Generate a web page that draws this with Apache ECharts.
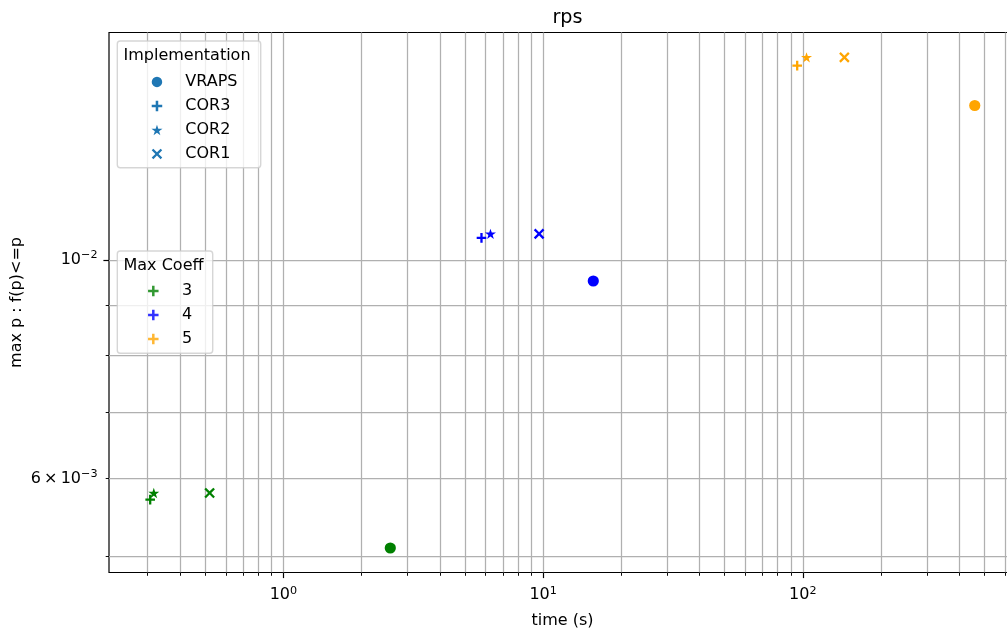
<!DOCTYPE html>
<html>
<head>
<meta charset="utf-8">
<script src="https://cdn.jsdelivr.net/npm/echarts@6/dist/echarts.min.js"></script>
<style>
  html, body { margin: 0; padding: 0; background: #ffffff; }
  #chart { width: 1007px; height: 630px; }
</style>
</head>
<body>
<div id="chart"></div>
<script>
// ---- data ----------------------------------------------------------------
const implementations = ['VRAPS', 'COR3', 'COR2', 'COR1'];
const maxCoeffs = ['3', '4', '5'];
const coeffColors = ['green', 'blue', 'orange'];

// one value per max coefficient (3, 4, 5)
const timeVRAPS = [2.58, 15.6, 459];
const probVRAPS = [0.00510, 0.00952, 0.01435];
const timeCOR3 = [0.307, 5.79, 95.1];
const probCOR3 = [0.00571, 0.01053, 0.01575];
const timeCOR2 = [0.317, 6.27, 103.3];
const probCOR2 = [0.00580, 0.01063, 0.01606];
const timeCOR1 = [0.520, 9.65, 144.5];
const probCOR1 = [0.00580, 0.01063, 0.01606];

// ---- ticks ---------------------------------------------------------------
const xMajorTicks = [1, 10, 100];
const xMinorTicks = [0.3, 0.4, 0.5, 0.6, 0.7, 0.8, 0.9,
                     2, 3, 4, 5, 6, 7, 8, 9,
                     20, 30, 40, 50, 60, 70, 80, 90,
                     200, 300, 400, 500, 600];
const yMajorTicks = [0.01];
const yMinorTicks = [0.005, 0.006, 0.007, 0.008, 0.009];
const yLabelTicks = [0.006, 0.01];

const xRange = [0.2131, 661.6];
const yRange = [0.004816, 0.01702];

// ---- styling helpers -----------------------------------------------------
const FONT = 'DejaVu Sans';
const FS = 16;
const GRID_COLOR = '#b0b0b0';
const IMPL_COLOR = '#1f77b4';

function starPath() {
  let s = 'path://';
  for (let k = 0; k < 10; k++) {
    const r = k % 2 ? 3.81966 : 10;
    const a = (-90 + 36 * k) * Math.PI / 180;
    s += (k ? 'L' : 'M') + (r * Math.cos(a)).toFixed(3) + ',' + (r * Math.sin(a)).toFixed(3);
  }
  return s + 'Z';
}
const PLUS = 'path://M3.8,0H6.2V3.8H10V6.2H6.2V10H3.8V6.2H0V3.8H3.8Z';
const CROSS = 'path://M0,1.53L1.53,0L5,3.47L8.47,0L10,1.53L6.53,5L10,8.47L8.47,10L5,6.53L1.53,10L0,8.47L3.47,5Z';
const STAR = starPath();

const markers = {
  VRAPS: { symbol: 'circle', size: 11.2 },
  COR3: { symbol: PLUS, size: 9.6 },
  COR2: { symbol: STAR, size: [11, 10.4] },
  COR1: { symbol: CROSS, size: 10.6 }
};
const seriesData = {
  VRAPS: [timeVRAPS, probVRAPS],
  COR3: [timeCOR3, probCOR3],
  COR2: [timeCOR2, probCOR2],
  COR1: [timeCOR1, probCOR1]
};

// "10^e" or "m × 10^e" written with a raised exponent
function powLabel(v) {
  const e = Math.floor(Math.log10(v) + 1e-9);
  const m = Math.round(v / Math.pow(10, e));
  const exp = String(e).replace('-', '\u2212');
  const head = m === 1 ? '10' : m + '\u2009\u00d7\u200910';
  return '{b|' + head + '}{s|' + exp + '}';
}
const labelRich = {
  b: { fontFamily: FONT, fontSize: FS, color: '#000', lineHeight: 20, verticalAlign: 'middle' },
  s: { fontFamily: FONT, fontSize: 11.2, color: '#000', lineHeight: 10.5, verticalAlign: 'top' }
};

// ---- series --------------------------------------------------------------
const series = implementations.map(name => ({
  name: name,
  type: 'scatter',
  xAxisIndex: 0,
  yAxisIndex: 0,
  symbol: markers[name].symbol,
  symbolSize: markers[name].size,
  itemStyle: { color: IMPL_COLOR, opacity: 1 },
  emphasis: { disabled: true },
  data: seriesData[name][0].map((t, i) => ({
    value: [t, seriesData[name][1][i]],
    itemStyle: { color: coeffColors[i] }
  }))
}));
// legend-only entries for the coefficient colours
maxCoeffs.forEach((c, i) => {
  series.push({
    name: c,
    type: 'scatter',
    symbol: PLUS,
    symbolSize: 9.6,
    itemStyle: { color: coeffColors[i] },
    data: []
  });
});

const chart = echarts.init(document.getElementById('chart'), null, { renderer: 'canvas' });

const legendText = { fontFamily: FONT, fontSize: FS, color: '#000' };

const option = {
  animation: false,
  backgroundColor: '#ffffff',
  textStyle: { fontFamily: FONT },
  title: {
    text: 'rps',
    left: 562.5,
    textAlign: 'center',
    top: 4,
    textStyle: { fontFamily: FONT, fontSize: 19.2, fontWeight: 'normal', color: '#000' }
  },
  grid: {
    left: 109, top: 32.5, width: 907, height: 540,
    outerBoundsMode: 'none',
    containLabel: false,
    show: true, borderColor: '#000', borderWidth: 1.2, backgroundColor: 'transparent'
  },
  xAxis: [
    {
      type: 'log', logBase: 10, min: xRange[0], max: xRange[1], position: 'bottom',
      name: 'time (s)', nameLocation: 'middle', nameGap: 40, nameMoveOverlap: false,
      nameTextStyle: { fontFamily: FONT, fontSize: FS, color: '#000' },
      axisLine: { show: false },
      axisTick: { show: true, length: 5.6, customValues: xMajorTicks, lineStyle: { color: '#000', width: 1.2 } },
      axisLabel: { show: true, customValues: xMajorTicks, margin: 12.8, formatter: powLabel, rich: labelRich },
      splitLine: { show: true, lineStyle: { color: GRID_COLOR, width: 1.25 } },
      minorTick: { show: false }, minorSplitLine: { show: false }
    },
    {
      type: 'log', logBase: 10, min: xRange[0], max: xRange[1], position: 'bottom',
      axisLine: { show: false },
      axisTick: { show: true, length: 3.3, customValues: xMinorTicks, lineStyle: { color: '#000', width: 0.95 } },
      axisLabel: { show: false },
      splitLine: { show: true, lineStyle: { color: GRID_COLOR, width: 1.25 } }
    }
  ],
  yAxis: [
    {
      type: 'log', logBase: 10, min: yRange[0], max: yRange[1], position: 'left',
      name: 'max p : f(p)<=p', nameLocation: 'middle', nameGap: 84.5, nameRotate: 90,
      nameMoveOverlap: false,
      nameTextStyle: { fontFamily: FONT, fontSize: FS, color: '#000' },
      axisLine: { show: false },
      axisTick: { show: true, length: 5.6, customValues: yMajorTicks, lineStyle: { color: '#000', width: 1.2 } },
      axisLabel: { show: true, customValues: yLabelTicks, margin: 11.5, formatter: powLabel, rich: labelRich },
      splitLine: { show: true, lineStyle: { color: GRID_COLOR, width: 1.25 } }
    },
    {
      type: 'log', logBase: 10, min: yRange[0], max: yRange[1], position: 'left',
      axisLine: { show: false },
      axisTick: { show: true, length: 3.3, customValues: yMinorTicks, lineStyle: { color: '#000', width: 0.95 } },
      axisLabel: { show: false },
      splitLine: { show: true, lineStyle: { color: GRID_COLOR, width: 1.25 } }
    }
  ],
  legend: [
    {
      data: implementations,
      orient: 'vertical', left: 151.45, top: 73.9, padding: 0,
      itemWidth: 46.6, itemHeight: 10.5, itemGap: 8, symbolKeepAspect: true,
      selectedMode: false,
      textStyle: legendText
    },
    {
      data: maxCoeffs,
      orient: 'vertical', left: 148.05, top: 282.9, padding: 0,
      itemWidth: 47.4, itemHeight: 10.5, itemGap: 8, symbolKeepAspect: true,
      selectedMode: false,
      textStyle: legendText
    }
  ],
  graphic: [
    {
      type: 'rect', z: 3, silent: true,
      shape: { x: 117.3, y: 41, width: 143.4, height: 126.7, r: 3 },
      style: { fill: 'rgba(255,255,255,0.8)', stroke: 'rgba(204,204,204,0.8)', lineWidth: 1.4 }
    },
    {
      type: 'text', z: 4, silent: true, x: 123.5, y: 55.7,
      style: { text: 'Implementation', fontFamily: FONT, fontSize: FS, fill: '#000', verticalAlign: 'middle' }
    },
    {
      type: 'rect', z: 3, silent: true,
      shape: { x: 117.3, y: 251, width: 95.4, height: 102.3, r: 3 },
      style: { fill: 'rgba(255,255,255,0.8)', stroke: 'rgba(204,204,204,0.8)', lineWidth: 1.4 }
    },
    {
      type: 'text', z: 4, silent: true, x: 123.5, y: 265.4,
      style: { text: 'Max Coeff', fontFamily: FONT, fontSize: FS, fill: '#000', verticalAlign: 'middle' }
    }
  ],
  series: series
};

chart.setOption(option);
</script>
</body>
</html>
